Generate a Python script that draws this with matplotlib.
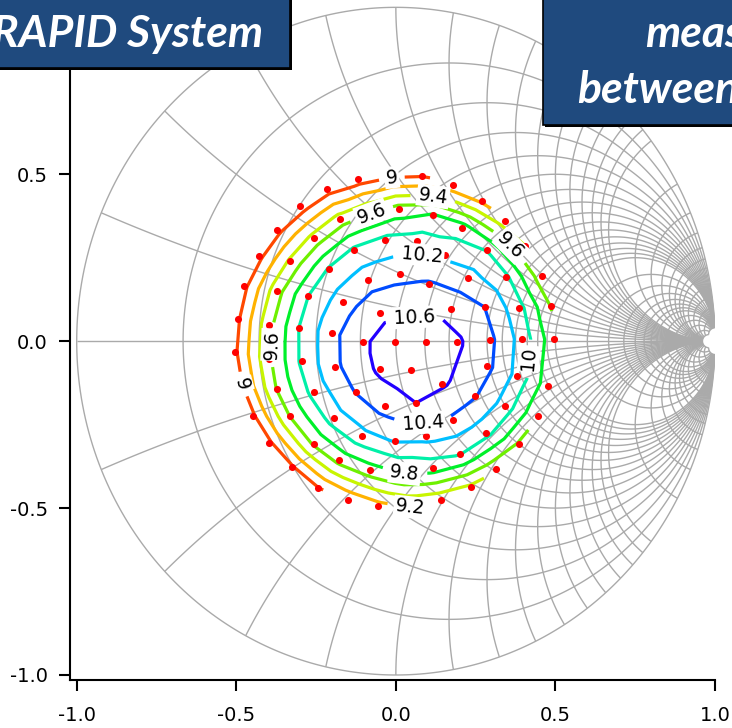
import numpy as np
import matplotlib
matplotlib.use("Agg")
import matplotlib.pyplot as plt
import matplotlib.tri as mtri
from matplotlib.collections import LineCollection
from matplotlib.patches import Rectangle

plt.rcParams["axes.unicode_minus"] = False

# ---------------------------------------------------------------------------
# Load-pull measurement: load reflection coefficient and measured gain (dB)
# ---------------------------------------------------------------------------
gamma_re = [
    -0.003,
    0.096, 0.050, -0.050, -0.104, -0.050, 0.046,
    0.193, 0.174, 0.104, 0.013, -0.088, -0.167, -0.201, -0.191, -0.125, -0.034, 0.063, 0.146,
    0.294, 0.278, 0.226, 0.154, 0.065, -0.034, -0.130, -0.208, -0.274, -0.302, -0.295, -0.258,
    -0.193, -0.107, -0.003, 0.093, 0.179, 0.247, 0.285,
    0.396, 0.385, 0.346, 0.285, 0.208, 0.117, 0.010, -0.083, -0.175, -0.258, -0.331, -0.373,
    -0.397, -0.397, -0.373, -0.331, -0.258, -0.177, -0.081, 0.018, 0.115, 0.200, 0.283, 0.341,
    0.379,
    0.497, 0.487, 0.458, 0.406, 0.341, 0.271, 0.179, 0.083, -0.019, -0.120, -0.217, -0.300,
    -0.373, -0.430, -0.477, -0.495, -0.503, -0.483, -0.448, -0.396, -0.326, -0.243, -0.151,
    -0.055, 0.044, 0.141, 0.237, 0.315, 0.385, 0.445, 0.476,
]
gamma_im = [
    -0.001,
    -0.001, 0.087, 0.084, -0.001, -0.083, -0.087,
    -0.001, 0.096, 0.172, 0.202, 0.182, 0.116, 0.025, -0.077, -0.153, -0.193, -0.185, -0.127,
    0.004, 0.102, 0.189, 0.257, 0.299, 0.302, 0.274, 0.216, 0.136, 0.040, -0.060, -0.153,
    -0.230, -0.283, -0.300, -0.285, -0.235, -0.163, -0.073,
    0.007, 0.099, 0.192, 0.274, 0.339, 0.379, 0.396, 0.391, 0.366, 0.309, 0.239, 0.149,
    0.049, -0.052, -0.143, -0.225, -0.307, -0.357, -0.387, -0.400, -0.380, -0.337, -0.275, -0.195,
    -0.103,
    0.005, 0.104, 0.196, 0.284, 0.361, 0.421, 0.469, 0.496, 0.500, 0.486, 0.456, 0.406,
    0.334, 0.256, 0.164, 0.067, -0.031, -0.130, -0.225, -0.305, -0.377, -0.440, -0.475,
    -0.495, -0.499, -0.475, -0.438, -0.383, -0.307, -0.225, -0.133,
]
gain_db = [
    10.70,
    10.74, 10.57, 10.55, 10.57, 10.64, 10.72,
    10.63, 10.53, 10.42, 10.34, 10.32, 10.31, 10.34, 10.36, 10.41, 10.49, 10.60, 10.63,
    10.45, 10.40, 10.29, 10.16, 10.10, 10.06, 10.04, 10.03, 10.00, 10.01, 10.04, 10.07,
    10.11, 10.14, 10.21, 10.27, 10.37, 10.42, 10.46,
    10.12, 10.08, 10.04, 9.99, 9.90, 9.81, 9.68, 9.55, 9.49, 9.47, 9.44, 9.52,
    9.54, 9.57, 9.61, 9.61, 9.63, 9.67, 9.71, 9.78, 9.89, 10.02, 10.07, 10.12,
    10.15,
    9.66, 9.59, 9.48, 9.41, 9.28, 9.15, 9.06, 8.98, 8.93, 8.89, 8.90, 8.88,
    8.92, 8.93, 8.94, 8.97, 8.97, 8.99, 8.96, 8.96, 8.97, 8.99, 9.05,
    9.12, 9.19, 9.27, 9.35, 9.45, 9.58, 9.62, 9.69,
]

levels = [9.0, 9.2, 9.4, 9.6, 9.8, 10.0, 10.2, 10.4, 10.6]
level_colors = ["#ff4800", "#ffb200", "#c8f500", "#6ef000", "#00f02a",
                "#00f0a8", "#00bfff", "#004cff", "#2200ff"]

# where the contour values are written
label_levels = [9.0, 9.0, 9.2, 9.4, 9.6, 9.6, 9.6, 9.8, 10.0, 10.2, 10.4, 10.6]
label_re = [-0.013, -0.484, 0.044, 0.113, -0.075, 0.341, -0.400, 0.028, 0.441, 0.081, 0.088, 0.056]
label_im = [0.492, -0.130, -0.493, 0.415, 0.379, 0.265, -0.010, -0.391, -0.055, 0.253, -0.259, 0.094]

# Smith chart grid: normalised resistance / reactance values
grid_values = [0.2, 0.4, 0.6, 0.8, 1.0, 1.2, 1.4, 1.6, 1.8, 2.0,
               2.2, 2.4, 2.6, 2.8, 3, 4, 5, 6, 7, 8, 9, 10, 12, 15, 20, 30, 50]


def smith_grid(values, top=50.0):
    segs = []
    # constant resistance circles
    s = np.sinh(np.linspace(-np.arcsinh(top), np.arcsinh(top), 900))
    for r in [0.0] + values:
        g = (r + 1j * s - 1) / (r + 1j * s + 1)
        segs.append(np.column_stack([g.real, g.imag]))
    # constant reactance arcs
    s = np.sinh(np.linspace(0, np.arcsinh(top), 600))
    for x in [0.0] + values + [-v for v in values]:
        g = (s + 1j * x - 1) / (s + 1j * x + 1)
        segs.append(np.column_stack([g.real, g.imag]))
    return segs


fig = plt.figure(figsize=(7.32, 7.28), dpi=100)
ax = fig.add_axes([70 / 732, 48 / 728, 645 / 732, 680 / 728])

ax.add_collection(LineCollection(smith_grid(grid_values), colors="#aaaaaa",
                                 linewidths=1.0, zorder=1))

tri = mtri.Triangulation(gamma_re, gamma_im)
label_texts = []
for lev, col in zip(levels, level_colors):
    cs = ax.tricontour(tri, gain_db, levels=[lev], colors=[col],
                       linewidths=2.3, zorder=2)
    spots = [(lx, ly) for lv, lx, ly in zip(label_levels, label_re, label_im) if lv == lev]
    if spots:
        label_texts += ax.clabel(cs, manual=spots, inline=True, inline_spacing=6,
                                 fmt=lambda v: f"{v:g}", fontsize=13.5, colors="k")
for t in label_texts:
    t.set_bbox(dict(boxstyle="square,pad=0.08", fc="white", ec="none"))

ax.scatter(gamma_re, gamma_im, s=26, c="#ff0000", linewidths=0, zorder=3)

ax.set_xlim(-1.021, 1.0)
ax.set_ylim(-1.015, 1.022)
ax.set_xticks([-1.0, -0.5, 0.0, 0.5, 1.0])
ax.set_yticks([-1.0, -0.5, 0.0, 0.5])
ax.xaxis.set_major_formatter(plt.FormatStrFormatter("%.1f"))
ax.yaxis.set_major_formatter(plt.FormatStrFormatter("%.1f"))
ax.tick_params(length=8, width=1.5, labelsize=14)
ax.tick_params(axis="x", pad=11)
ax.tick_params(axis="y", pad=8)
for side in ("top", "right"):
    ax.spines[side].set_visible(False)
for side in ("left", "bottom"):
    ax.spines[side].set_linewidth(1.5)

# title banners
W, H = 732.0, 728.0
for (x0, y0, x1, y1) in [(-6, -6, 290, 68), (543, -6, 740, 125)]:
    fig.add_artist(Rectangle(((x0 + 2) / W, 1 - (y1 + 2) / H), (x1 - x0) / W, (y1 - y0) / H,
                             transform=fig.transFigure, fc="black", ec="none", zorder=3))
    fig.add_artist(Rectangle((x0 / W, 1 - y1 / H), (x1 - x0) / W, (y1 - y0) / H,
                             transform=fig.transFigure, fc="#1f4a7e", ec="black",
                             lw=1.2, zorder=3.1))

banner_font = dict(color="white", fontsize=32, fontweight="bold", fontstyle="italic",
                   family=["Lato", "DejaVu Sans"], va="baseline", zorder=5)
fig.text(263 / W, 1 - 47 / H, "RAPID System", ha="right", **banner_font)
fig.text(645 / W, 1 - 47 / H, "measured", ha="left", **banner_font)
fig.text(577 / W, 1 - 103 / H, "between", ha="left", **banner_font)

fig.savefig("out.png", dpi=100)
